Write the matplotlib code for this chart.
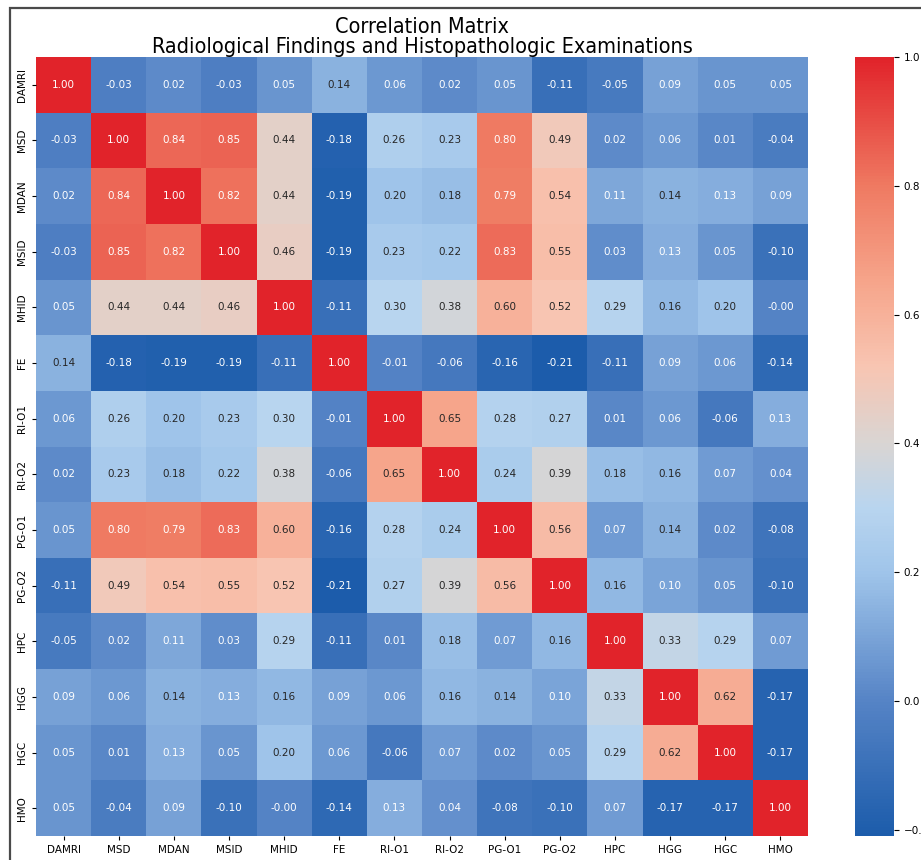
import numpy as np
import pandas as pd
import matplotlib
matplotlib.use("Agg")
import matplotlib.pyplot as plt
import seaborn as sns
from matplotlib.colors import LinearSegmentedColormap
from matplotlib.patches import Rectangle

# ----------------- Data -----------------
labels = ["DAMRI", "MSD", "MDAN", "MSID", "MHID", "FE", "RI-O1", "RI-O2",
          "PG-O1", "PG-O2", "HPC", "HGG", "HGC", "HMO"]

corr_values = [
    [1.00, -0.03, 0.02, -0.03, 0.05, 0.14, 0.06, 0.02, 0.05, -0.11, -0.05, 0.09, 0.05, 0.05],
    [-0.03, 1.00, 0.84, 0.85, 0.44, -0.18, 0.26, 0.23, 0.80, 0.49, 0.02, 0.06, 0.01, -0.04],
    [0.02, 0.84, 1.00, 0.82, 0.44, -0.19, 0.20, 0.18, 0.79, 0.54, 0.11, 0.14, 0.13, 0.09],
    [-0.03, 0.85, 0.82, 1.00, 0.46, -0.19, 0.23, 0.22, 0.83, 0.55, 0.03, 0.13, 0.05, -0.10],
    [0.05, 0.44, 0.44, 0.46, 1.00, -0.11, 0.30, 0.38, 0.60, 0.52, 0.29, 0.16, 0.20, -0.004],
    [0.14, -0.18, -0.19, -0.19, -0.11, 1.00, -0.01, -0.06, -0.16, -0.21, -0.11, 0.09, 0.06, -0.14],
    [0.06, 0.26, 0.20, 0.23, 0.30, -0.01, 1.00, 0.65, 0.28, 0.27, 0.01, 0.06, -0.06, 0.13],
    [0.02, 0.23, 0.18, 0.22, 0.38, -0.06, 0.65, 1.00, 0.24, 0.39, 0.18, 0.16, 0.07, 0.04],
    [0.05, 0.80, 0.79, 0.83, 0.60, -0.16, 0.28, 0.24, 1.00, 0.56, 0.07, 0.14, 0.02, -0.08],
    [-0.11, 0.49, 0.54, 0.55, 0.52, -0.21, 0.27, 0.39, 0.56, 1.00, 0.16, 0.10, 0.05, -0.10],
    [-0.05, 0.02, 0.11, 0.03, 0.29, -0.11, 0.01, 0.18, 0.07, 0.16, 1.00, 0.33, 0.29, 0.07],
    [0.09, 0.06, 0.14, 0.13, 0.16, 0.09, 0.06, 0.16, 0.14, 0.10, 0.33, 1.00, 0.62, -0.17],
    [0.05, 0.01, 0.13, 0.05, 0.20, 0.06, -0.06, 0.07, 0.02, 0.05, 0.29, 0.62, 1.00, -0.17],
    [0.05, -0.04, 0.09, -0.10, -0.004, -0.14, 0.13, 0.04, -0.08, -0.10, 0.07, -0.17, -0.17, 1.00],
]
corr = pd.DataFrame(corr_values, index=labels, columns=labels)

# ----------------- Colormap (blue -> grey -> red) -----------------
vmin, vmax = corr.values.min(), 1.0
stops = [(-0.21, "#1c5cab"), (0.0, "#5684c6"), (0.2, "#a0c5ea"),
         (0.3, "#b9d5ef"), (0.4, "#d9d5d3"), (0.52, "#f8c5b2"),
         (0.65, "#f6a58b"), (0.8, "#ef7a62"), (1.0, "#e1232a")]
cmap = LinearSegmentedColormap.from_list(
    "corr_cmap", [((v - vmin) / (vmax - vmin), c) for v, c in stops])

# ----------------- Figure -----------------
fig = plt.figure(figsize=(9.21, 8.6), dpi=100)
ax = fig.add_axes([0.0391, 0.0279, 0.8382, 0.9058])
cax = fig.add_axes([0.9283, 0.0279, 0.0423, 0.9058])

sns.heatmap(corr, ax=ax, cbar_ax=cax, cmap=cmap, vmin=vmin, vmax=vmax,
            annot=True, fmt=".2f", annot_kws={"fontsize": 7.5})

ax.set_xticklabels(labels, rotation=0, fontsize=7.5)
ax.set_yticklabels(labels, rotation=90, va="center", fontsize=7.5)
ax.tick_params(length=3, width=0.8)
cax.tick_params(labelsize=7.5)
cax.set_yticks([-0.2, 0.0, 0.2, 0.4, 0.6, 0.8, 1.0])

ax.set_title("Correlation Matrix\nRadiological Findings and Histopathologic Examinations",
             fontsize=15.5, fontstretch="condensed", pad=3, linespacing=1.0)

# frame around the figure
fig.patches.append(Rectangle((10 / 921, -0.1), 1.2, 1.1 - 8 / 860,
                             transform=fig.transFigure, fill=False,
                             edgecolor="#4a4a4a", linewidth=1.6))

fig.savefig("out.png", dpi=100)
